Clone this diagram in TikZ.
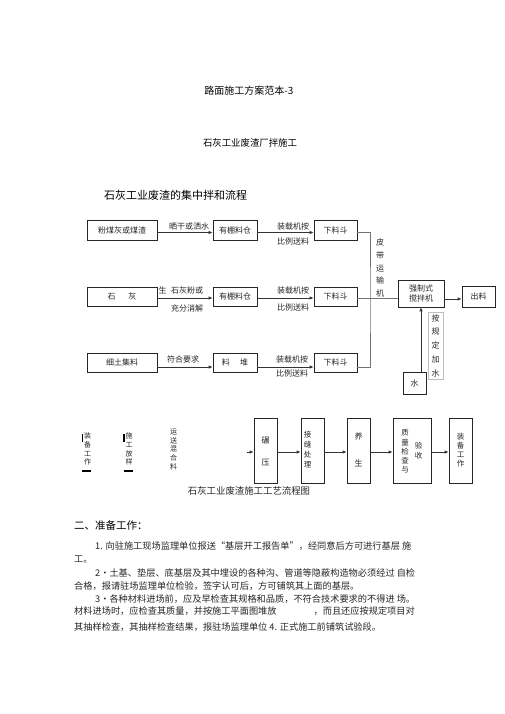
\documentclass[tikz,border=0pt]{standalone}
\usepackage{fontspec}
\setmainfont{Noto Sans CJK SC}
\usetikzlibrary{arrows.meta}
\begin{document}
\begin{tikzpicture}[x=1pt,y=-1pt,
  box/.style={draw=black!85, line width=0.7pt, inner sep=0pt},
  gbox/.style={draw=black!25, line width=0.6pt, inner sep=0pt},
  lbl/.style={font=\fontsize{8}{9}\selectfont, inner sep=0pt, text=black!85},
  arr/.style={draw=black!80, line width=0.8pt, -{Latex[length=4pt,width=3.5pt]}},
  belt/.style={draw=black!55, line width=0.6pt},
  para/.style={font=\fontsize{9.2}{11}\selectfont, inner sep=0pt, anchor=west, text=black!85},
  bar/.style={draw=black, line width=1.3pt}
]
\fill[white] (0,0) rectangle (505,714);
\useasboundingbox (0,0) rectangle (505,714);

% titles
\node[inner sep=0pt, font=\fontsize{10}{12}\selectfont] (t1) at (249,91) {路面施工方案范本-3};
\node[inner sep=0pt, font=\fontsize{9.4}{11}\selectfont] (t2) at (250,143) {石灰工业废渣厂拌施工};
\node[inner sep=0pt, font=\fontsize{11}{13}\selectfont] (t3) at (175.5,195) {石灰工业废渣的集中拌和流程};

% row 1
\node[box, minimum width=70, minimum height=20, lbl] (a1) at (122,230) {粉煤灰或煤渣};
\node[box, minimum width=44, minimum height=20, lbl] (a2) at (235,230) {有棚料仓};
\node[box, minimum width=43, minimum height=20, lbl] (a3) at (335.5,230) {下料斗};
% row 2
\node[box, minimum width=70, minimum height=19, lbl] (b1) at (122,296.5) {石\hspace{1.6em}灰};
\node[box, minimum width=44, minimum height=19, lbl] (b2) at (235,296.5) {有棚料仓};
\node[box, minimum width=43, minimum height=19, lbl] (b3) at (335.5,296.5) {下料斗};
% row 3
\node[box, minimum width=70, minimum height=19, lbl] (c1) at (122,362.5) {细土集料};
\node[box, minimum width=44, minimum height=19, lbl] (c2) at (235,362.5) {料\hspace{1.3em}堆};
\node[box, minimum width=43, minimum height=19, lbl] (c3) at (335.5,362.5) {下料斗};
% mixer, output, water
\node[box, minimum width=46, minimum height=27, lbl, align=center, font=\fontsize{8}{10.5}\selectfont] (m) at (421,293.5) {强制式\\搅拌机};
\node[box, minimum width=33, minimum height=21, lbl] (o) at (478.5,296.5) {出料};
\node[box, minimum width=23, minimum height=22, lbl] (w) at (414.5,383) {水};
\node[gbox, minimum width=15, minimum height=67] (wb) at (435.5,345.5) {};
\node[lbl, align=center, font=\fontsize{8}{13.75}\selectfont] (wt) at (435.5,345.5) {按\\规\\定\\加\\水};

% arrows rows
\draw[arr] ([yshift=-2.5pt]a1.east) -- ([yshift=-2.5pt]a2.west);
\draw[arr] ([yshift=-2.5pt]a2.east) -- ([yshift=-2.5pt]a3.west);
\draw[arr] ([yshift=-1.5pt]b1.east) -- ([yshift=-1.5pt]b2.west);
\draw[arr] ([yshift=-1.5pt]b2.east) -- ([yshift=-1.5pt]b3.west);
\draw[arr] ([yshift=-4.5pt]c1.east) -- ([yshift=-4.5pt]c2.west);
\draw[arr] ([yshift=-4.5pt]c2.east) -- ([yshift=-4.5pt]c3.west);

% belt
\coordinate (belt) at (370,300);
\draw[belt] ([yshift=-2.5pt]a3.east) -| (belt) |- ([yshift=-4.5pt]c3.east);
\draw[belt] ([yshift=-1.5pt]b3.east) -- ([yshift=-1.5pt]b3.east -| m.west);
\node[lbl, align=center, font=\fontsize{8}{12.75}\selectfont] (bl) at (380,268) {皮\\带\\运\\输\\机};
\draw[arr] ([yshift=-5.5pt]m.east) -- ([yshift=-5.5pt]m.east -| o.west);
\draw[arr] ([xshift=6.5pt]w.north) -- ([xshift=6.5pt]w.north |- m.south);

% row labels
\node[lbl] (l1) at (189,226) {晒干或洒水};
\node[lbl] (l2) at (293,226) {装载机按};
\node[lbl] (l3) at (293,241) {比例送料};
\node[lbl] (l4) at (162.5,290) {生};
\node[lbl] (l5) at (187,290) {石灰粉或};
\node[lbl] (l6) at (187,308) {充分消解};
\node[lbl] (l7) at (293,290) {装载机按};
\node[lbl] (l8) at (293,307) {比例送料};
\node[lbl] (l9) at (183,359) {符合要求};
\node[lbl] (l10) at (292,359) {装载机按};
\node[lbl] (l11) at (292,373) {比例送料};

% bottom chart left vertical texts
\node[lbl, align=center, font=\fontsize{7}{8.7}\selectfont] (v1) at (87.5,449) {装\\备\\工\\作};
\draw[bar] (82.5,434) -- (82.5,442);
\draw[bar] (82,471) -- (90.5,471);
\node[lbl, align=center, font=\fontsize{7}{8.7}\selectfont] (v2) at (129,449) {施\\工\\放\\样};
\draw[bar] (124,434) -- (124,442);
\draw[bar] (123.5,471) -- (133,471);
\node[lbl, align=center, font=\fontsize{7}{8.75}\selectfont] (v3) at (173.5,449.5) {运\\送\\混\\合\\料};

% bottom chart boxes
\node[box, minimum width=23, minimum height=65] (p1) at (265.5,450.5) {};
\node[box, minimum width=23, minimum height=65] (p2) at (312.5,450.5) {};
\node[box, minimum width=23, minimum height=65] (p3) at (358.5,450.5) {};
\node[box, minimum width=38, minimum height=65] (p4) at (412,450.5) {};
\node[box, minimum width=23, minimum height=65] (p5) at (460.5,450.5) {};
\node[lbl] (q1a) at (265.5,441) {碾};
\node[lbl] (q1b) at (265.5,463) {压};
\node[lbl, align=center, font=\fontsize{7.5}{10}\selectfont] (q2) at (307.5,450) {接\\缝\\处\\理};
\node[lbl] (q3a) at (358.5,436) {养};
\node[lbl] (q3b) at (358.5,463) {生};
\node[lbl, align=center, font=\fontsize{7.5}{9.25}\selectfont] (q4a) at (405,451.5) {质\\量\\检\\查\\与};
\node[lbl, align=center, font=\fontsize{7.5}{10}\selectfont] (q4b) at (418.5,451) {验\\收};
\node[lbl, align=center, font=\fontsize{7.5}{9}\selectfont] (q5) at (460.5,450.5) {装\\备\\工\\作};

\coordinate (s) at (247,452);
\draw[arr] (s) -- ([yshift=-1.5pt]p1.west);
\draw[arr] ([yshift=-1.5pt]p1.east) -- ([yshift=-1.5pt]p2.west);
\draw[arr] ([yshift=-1.5pt]p2.east) -- ([yshift=-1.5pt]p3.west);
\draw[arr] ([yshift=-1.5pt]p3.east) -- ([yshift=-1.5pt]p4.west);
\draw[arr] ([yshift=-1.5pt]p4.east) -- ([yshift=-1.5pt]p5.west);

\node[inner sep=0pt, font=\fontsize{9.4}{11}\selectfont, text=black!85] (cap) at (249,491) {石灰工业废渣施工工艺流程图};

% section
\node[inner sep=0pt, anchor=west, font=\fontsize{10.5}{12}\selectfont] (sec) at (74,525) {二、准备工作：};
\node[para] (r1) at (95,546) {1. 向驻施工现场监理单位报送“基层开工报告单”，经同意后方可进行基层 施};
\node[para] (r2) at (74,559) {工。};
\node[para] (r3) at (95,573) {2•土基、垫层、底基层及其中埋设的各种沟、管道等隐蔽构造物必须经过 自检};
\node[para] (r4) at (74,586) {合格，报请驻场监理单位检验，签字认可后，方可铺筑其上面的基层。};
\node[para] (r5) at (95,599) {3•各种材料进场前，应及早检查其规格和品质，不符合技术要求的不得进 场。};
\node[para] (r6) at (74,611) {材料进场时，应检查其质量，并按施工平面图堆放};
\node[para, anchor=east] (r6b) at (415,611) {，而且还应按规定项目对};
\node[para] (r7) at (74,627) {其抽样检查，其抽样检查结果，报驻场监理单位 4. 正式施工前铺筑试验段。};
\end{tikzpicture}
\end{document}
